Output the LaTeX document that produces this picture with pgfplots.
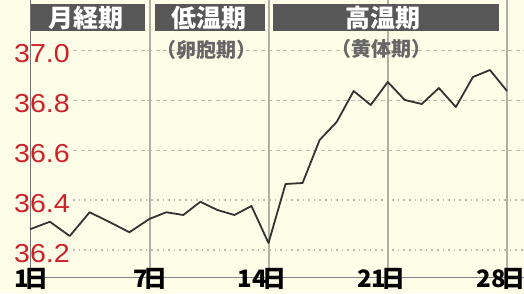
\documentclass[border=0pt]{standalone}
\usepackage{fontspec}
\setmainfont{Liberation Sans}
\newfontfamily\cjk{Noto Sans CJK JP}
\newfontfamily\numfont{Liberation Sans}[FakeStretch=1.1]
\usepackage{pgfplots}
\pgfplotsset{compat=1.18}
\definecolor{cream}{HTML}{FEFDE8}
\definecolor{labred}{HTML}{CC2229}
\definecolor{bardark}{HTML}{575757}
\definecolor{vline}{HTML}{B0B0A6}
\definecolor{gridc}{HTML}{BDBDB0}
\definecolor{datac}{HTML}{333333}
\newcommand{\nichi}{\makebox[15pt][c]{日}}
\begin{document}
\begin{tikzpicture}
% pixel-coordinate background layer (top-left of image = (0,0))
\begin{scope}[x=1pt,y=-1pt,shift={(-30pt,277pt)}]
  \fill[cream] (0,0) rectangle (524,293);
  % horizontal grid
  \foreach \yy in {50,100,150}{\draw[gridc,line width=1pt,dash pattern=on 4pt off 3.5pt] (73,\yy) -- (524,\yy);}
  \foreach \yy in {200,250}{\draw[gridc,line width=1.2pt,dash pattern=on 1.6pt off 4pt] (73,\yy) -- (524,\yy);}
  % vertical lines
  \draw[black!55,line width=1pt] (30,0) -- (30,277);
  \foreach \xx in {150,269,388,507}{\draw[vline,line width=2pt] (\xx,0) -- (\xx,277);}
  % header bars
  \fill[bardark] (31,4) rectangle (145,31);
  \fill[bardark] (155,4) rectangle (265,31);
  \fill[bardark] (273,4) rectangle (499,31);
  \node[white,font=\cjk\bfseries\fontsize{25}{25}\selectfont] at (86,18) {月経期};
  \node[white,font=\cjk\bfseries\fontsize{25}{25}\selectfont] at (209,18) {低温期};
  \node[white,font=\cjk\bfseries\fontsize{25}{25}\selectfont] at (383,18) {高温期};
  \node[black!60,font=\cjk\bfseries\fontsize{20}{20}\selectfont] at (206,50) {（卵胞期）};
  \node[black!60,font=\cjk\bfseries\fontsize{20}{20}\selectfont] at (381,49) {（黄体期）};
  % x axis line
  \draw[black!48,line width=1.5pt] (30,277.5) -- (524,277.5);
\end{scope}
\begin{axis}[
  scale only axis,
  width=477pt, height=277pt,
  xmin=0, xmax=4, ymin=36.092, ymax=37.2,
  clip=false,
  axis line style={draw=none},
  major tick length=0pt,
  xtick={0,1,2,3,4},
  xticklabels={{\llap{1}\nichi},{\llap{7}\nichi},{\llap{14}\nichi},{\llap{21}\nichi},{\llap{28}\nichi}},
  xticklabel style={anchor=west,inner sep=0pt,xshift=-1.5pt,yshift=-1.5pt,
    text height=19.7pt,text depth=1.4pt,
    font=\cjk\bfseries\fontsize{24}{24}\selectfont,text=black},
  ytick={36.2,36.4,36.6,36.8,37.0},
  yticklabels={36.2,36.4,36.6,36.8,37.0},
  yticklabel style={anchor=east,inner sep=0pt,xshift=40pt,yshift=-4pt,
    font=\numfont\fontsize{26}{26}\selectfont,text=labred},
]
% x = position (day 1..7 -> 0..1, then 7 days per unit), y = temperature
\addplot[datac,line width=1.8pt,line join=round] coordinates {
(0,36.283) (0.1667,36.313) (0.3333,36.256) (0.5,36.351) (0.6667,36.312) (0.8333,36.271)
(1,36.324) (1.1429,36.351) (1.2857,36.340) (1.4286,36.393) (1.5714,36.360) (1.7143,36.340)
(1.8571,36.376) (2,36.228) (2.1429,36.464) (2.2857,36.468) (2.4286,36.640) (2.5714,36.712)
(2.7143,36.836) (2.8571,36.780) (3,36.872) (3.1429,36.800) (3.2857,36.784) (3.4286,36.848)
(3.5714,36.772) (3.7143,36.892) (3.8571,36.920) (4,36.836)
};
\end{axis}
\pgfresetboundingbox
\path[use as bounding box] (-30pt,-16pt) rectangle (494pt,277pt);
\end{tikzpicture}
\end{document}
